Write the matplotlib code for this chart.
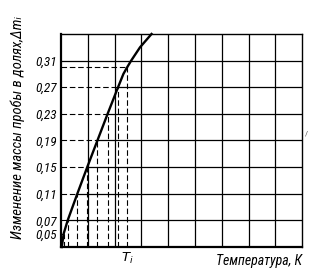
import numpy as np
import matplotlib
matplotlib.use("Agg")
import matplotlib.pyplot as plt

# curve: x in grid cells, y in fractions of the mass
curve_x = [0.03, 0.10, 0.25, 0.43, 0.61, 0.98, 1.36, 1.74, 2.13, 2.33, 2.47, 2.62, 2.95, 3.38]
curve_y = [0.03, 0.05, 0.07, 0.09, 0.11, 0.15, 0.19, 0.23, 0.27, 0.29, 0.30, 0.31, 0.33, 0.35]

y_ticks = [0.05, 0.07, 0.11, 0.15, 0.19, 0.23, 0.27, 0.31]
y_tick_labels = ["0,05", "0,07", "0,11", "0,15", "0,19", "0,23", "0,27", "0,31"]
grid_levels = [0.07, 0.11, 0.15, 0.19, 0.23, 0.27]   # dashed left of curve, solid right
guide_levels = [0.05, 0.30]                         # dashed only
full_levels = [0.31]                                # solid across
grid_cols = [1, 2, 3, 4, 5, 6, 7, 8]
x_ti = 2.47

plt.rcParams["font.family"] = ["Roboto Condensed", "Archivo Narrow", "DejaVu Sans"]
FONT = dict(style="italic")

fig = plt.figure(figsize=(3.16, 2.71), dpi=100)
ax = fig.add_axes([0.193, 0.0886, 0.763, 0.786])
x0, x1 = 0, 9
y0, y1 = 0.03, 0.35
ax.set_xlim(x0, x1)
ax.set_ylim(y0, y1)

def x_at(level):
    return np.interp(level, curve_y, curve_x)

lw = 0.9
for c in grid_cols:
    ax.axvline(c, color="black", lw=lw, zorder=1)
for lev in full_levels:
    ax.axhline(lev, color="black", lw=lw, zorder=1)
for lev in grid_levels:
    ax.plot([x_at(lev), x1], [lev, lev], color="black", lw=lw, zorder=1)
for lev in grid_levels + guide_levels:
    xc = x_at(lev)
    ax.plot([x0, xc], [lev, lev], color="black", lw=0.8, dashes=(5, 2.5), zorder=1)
    ax.plot([xc, xc], [y0, lev], color="black", lw=0.8, dashes=(5, 2.5), zorder=1)

ax.plot(curve_x, curve_y, color="black", lw=1.7, zorder=3, clip_on=False,
        solid_joinstyle="round")

for side in ["left", "bottom"]:
    ax.spines[side].set_linewidth(1.6)
for side in ["right", "top"]:
    ax.spines[side].set_linewidth(1.0)

ax.set_yticks(y_ticks)
ax.set_yticklabels(y_tick_labels, fontsize=9.5, **FONT)
ax.set_xticks([x_ti])
ax.set_xticklabels([r"$T_i$"], fontsize=9.5)
ax.tick_params(length=0, pad=3)

ax.text(1.0, -0.035, "Температура, К", transform=ax.transAxes, ha="right", va="top",
        fontsize=10, **FONT)
fig.text(0.057, 0.53, "Изменение массы пробы в долях,Δmᵢ", rotation=90,
         ha="center", va="center", fontsize=10.5, **FONT)
fig.text(0.966, 0.5, "/", fontsize=6, color="#555555")

fig.savefig("out.png", dpi=100)
